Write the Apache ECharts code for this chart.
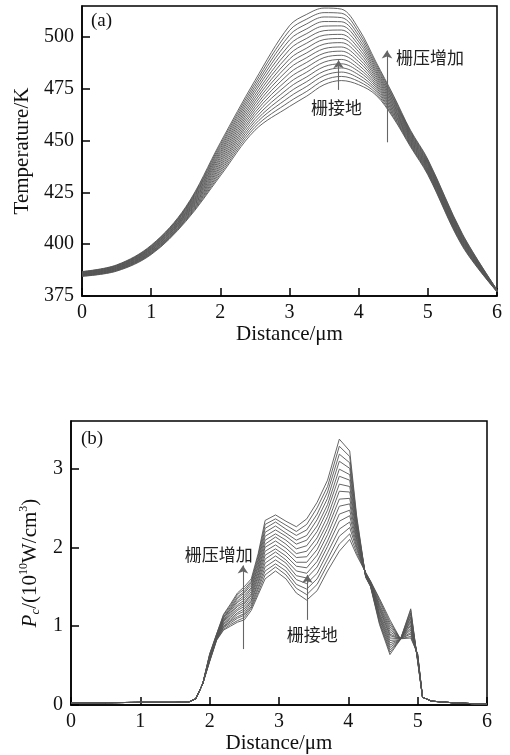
<!DOCTYPE html>
<html><head><meta charset="utf-8">
<script src="https://cdn.jsdelivr.net/npm/echarts@6/dist/echarts.min.js"></script>
<style>html,body{margin:0;padding:0;background:#fff}#c{width:510px;height:755px}</style>
</head><body><div id="c"></div>
<script>
// ---------- (a) Temperature vs distance ----------
const distA = [0, 0.5, 1, 1.5, 2, 2.5, 3, 3.25, 3.5, 3.75, 4, 4.25, 4.5, 4.75, 5, 5.5, 6];
const t01 = [384.5, 387.0, 395.0, 411.0, 433.0, 455.0, 466.5, 471.5, 477.0, 479.0, 477.0, 472.0, 461.0, 447.0, 433.5, 399.0, 377.0];
const t02 = [384.6, 387.2, 395.3, 411.4, 433.9, 456.4, 468.8, 473.8, 479.2, 481.0, 478.6, 472.9, 461.6, 447.5, 433.9, 399.4, 377.1];
const t03 = [384.8, 387.4, 395.5, 411.8, 434.9, 457.8, 471.1, 476.2, 481.4, 483.1, 480.2, 473.9, 462.3, 447.9, 434.4, 399.7, 377.1];
const t04 = [384.9, 387.5, 395.8, 412.2, 435.8, 459.2, 473.4, 478.5, 483.5, 485.1, 481.8, 474.8, 462.9, 448.4, 434.8, 400.1, 377.2];
const t05 = [385.0, 387.7, 396.1, 412.6, 436.8, 460.6, 475.7, 480.8, 485.7, 487.1, 483.4, 475.8, 463.6, 448.9, 435.3, 400.4, 377.2];
const t06 = [385.2, 387.9, 396.3, 413.1, 437.7, 462.1, 478.0, 483.1, 487.9, 489.2, 484.9, 476.7, 464.2, 449.4, 435.7, 400.8, 377.3];
const t07 = [385.3, 388.1, 396.6, 413.5, 438.6, 463.5, 480.3, 485.4, 490.1, 491.2, 486.5, 477.6, 464.9, 449.8, 436.2, 401.1, 377.4];
const t08 = [385.4, 388.2, 396.9, 413.9, 439.6, 464.9, 482.6, 487.8, 492.2, 493.2, 488.1, 478.6, 465.5, 450.3, 436.6, 401.5, 377.4];
const t09 = [385.6, 388.4, 397.1, 414.3, 440.5, 466.3, 484.9, 490.1, 494.4, 495.2, 489.7, 479.5, 466.2, 450.8, 437.0, 401.8, 377.5];
const t10 = [385.7, 388.6, 397.4, 414.7, 441.5, 467.7, 487.2, 492.4, 496.6, 497.3, 491.3, 480.5, 466.8, 451.2, 437.5, 402.2, 377.5];
const t11 = [385.9, 388.8, 397.7, 415.1, 442.4, 469.1, 489.4, 494.7, 498.8, 499.3, 492.9, 481.4, 467.5, 451.7, 437.9, 402.5, 377.6];
const t12 = [386.0, 388.9, 397.9, 415.5, 443.4, 470.5, 491.7, 497.1, 500.9, 501.3, 494.5, 482.4, 468.1, 452.2, 438.4, 402.9, 377.6];
const t13 = [386.1, 389.1, 398.2, 415.9, 444.3, 471.9, 494.0, 499.4, 503.1, 503.4, 496.1, 483.3, 468.8, 452.6, 438.8, 403.2, 377.7];
const t14 = [386.3, 389.3, 398.4, 416.4, 445.2, 473.4, 496.3, 501.7, 505.3, 505.4, 497.7, 484.2, 469.4, 453.1, 439.2, 403.6, 377.8];
const t15 = [386.4, 389.5, 398.7, 416.8, 446.2, 474.8, 498.6, 504.0, 507.5, 507.4, 499.2, 485.2, 470.1, 453.6, 439.7, 403.9, 377.8];
const t16 = [386.5, 389.7, 399.0, 417.2, 447.1, 476.2, 500.9, 506.4, 509.7, 509.4, 500.8, 486.1, 470.7, 454.1, 440.1, 404.3, 377.9];
const t17 = [386.7, 389.8, 399.2, 417.6, 448.1, 477.6, 503.2, 508.7, 511.8, 511.5, 502.4, 487.1, 471.4, 454.5, 440.6, 404.7, 377.9];
const t18 = [386.8, 390.0, 399.5, 418.0, 449.0, 479.0, 505.5, 511.0, 514.0, 513.5, 504.0, 488.0, 472.0, 455.0, 441.0, 405.0, 378.0];
const tempCurves = [t01, t02, t03, t04, t05, t06, t07, t08, t09, t10, t11, t12, t13, t14, t15, t16, t17, t18];

// ---------- (b) Pc vs distance ----------
const headX = [0, 0.5, 1, 1.5, 1.7, 1.8, 1.9];
const headV = [0.03, 0.03, 0.035, 0.035, 0.04, 0.08, 0.27];
const midX = [2.0, 2.1, 2.2, 2.3, 2.4, 2.5, 2.6, 2.7, 2.8, 2.95, 3.1, 3.25, 3.4, 3.55, 3.7, 3.87, 4.02, 4.12, 4.25, 4.32, 4.45, 4.6, 4.75, 4.9, 5.0];
const tailX = [5.07, 5.2, 5.5, 6];
const tailV = [0.1, 0.05, 0.03, 0.01];
const p01 = [0.55,0.82,0.95,1.00,1.05,1.08,1.20,1.40,1.60,1.70,1.60,1.42,1.33,1.45,1.70,1.95,2.10,1.90,1.68,1.57,1.35,1.08,0.84,0.85,0.65];
const p02 = [0.56,0.83,0.96,1.02,1.07,1.11,1.23,1.43,1.65,1.75,1.65,1.48,1.40,1.53,1.78,2.04,2.17,1.93,1.68,1.57,1.33,1.05,0.84,0.87,0.64];
const p03 = [0.56,0.83,0.98,1.04,1.10,1.14,1.25,1.47,1.70,1.79,1.70,1.53,1.47,1.60,1.85,2.14,2.25,1.97,1.67,1.56,1.31,1.02,0.84,0.90,0.64];
const p04 = [0.57,0.84,0.99,1.06,1.12,1.16,1.28,1.50,1.75,1.84,1.75,1.59,1.54,1.67,1.93,2.23,2.32,2.00,1.67,1.56,1.28,0.99,0.84,0.92,0.63];
const p05 = [0.58,0.84,1.00,1.07,1.15,1.19,1.31,1.54,1.80,1.89,1.80,1.64,1.61,1.75,2.01,2.33,2.40,2.03,1.66,1.55,1.26,0.96,0.84,0.95,0.62];
const p06 = [0.58,0.85,1.02,1.09,1.17,1.22,1.33,1.57,1.85,1.94,1.84,1.70,1.67,1.82,2.08,2.42,2.47,2.07,1.66,1.55,1.24,0.93,0.84,0.97,0.62];
const p07 = [0.59,0.85,1.03,1.11,1.20,1.25,1.36,1.61,1.90,1.98,1.89,1.76,1.74,1.90,2.16,2.52,2.55,2.10,1.66,1.54,1.22,0.90,0.84,1.00,0.61];
const p08 = [0.60,0.86,1.04,1.13,1.22,1.28,1.39,1.64,1.95,2.03,1.94,1.81,1.81,1.97,2.24,2.61,2.62,2.13,1.65,1.54,1.20,0.88,0.84,1.02,0.60];
const p09 = [0.60,0.86,1.06,1.15,1.25,1.30,1.41,1.68,2.00,2.08,1.99,1.87,1.88,2.05,2.31,2.71,2.70,2.17,1.65,1.53,1.17,0.85,0.84,1.05,0.60];
const p10 = [0.61,0.87,1.07,1.17,1.27,1.33,1.44,1.71,2.04,2.13,2.04,1.92,1.95,2.12,2.39,2.80,2.77,2.20,1.64,1.53,1.15,0.82,0.83,1.07,0.59];
const p11 = [0.62,0.87,1.08,1.19,1.30,1.36,1.47,1.75,2.09,2.17,2.09,1.98,2.02,2.20,2.47,2.90,2.85,2.23,1.64,1.52,1.13,0.79,0.83,1.10,0.58];
const p12 = [0.62,0.88,1.10,1.21,1.32,1.39,1.49,1.78,2.14,2.22,2.14,2.04,2.09,2.27,2.54,2.99,2.92,2.27,1.64,1.52,1.11,0.76,0.83,1.12,0.58];
const p13 = [0.63,0.88,1.11,1.22,1.35,1.42,1.52,1.82,2.19,2.27,2.18,2.09,2.15,2.35,2.62,3.09,3.00,2.30,1.63,1.51,1.09,0.73,0.83,1.15,0.57];
const p14 = [0.64,0.89,1.12,1.24,1.37,1.44,1.55,1.85,2.24,2.32,2.23,2.15,2.22,2.42,2.70,3.18,3.07,2.33,1.63,1.51,1.06,0.70,0.83,1.17,0.56];
const p15 = [0.64,0.90,1.14,1.26,1.40,1.47,1.57,1.89,2.29,2.36,2.28,2.20,2.29,2.50,2.77,3.28,3.15,2.37,1.62,1.51,1.04,0.67,0.83,1.20,0.56];
const p16 = [0.65,0.90,1.15,1.28,1.42,1.50,1.60,1.92,2.34,2.41,2.33,2.26,2.36,2.57,2.85,3.37,3.22,2.40,1.62,1.50,1.02,0.64,0.83,1.22,0.55];
const pcCurves = [p01, p02, p03, p04, p05, p06, p07, p08, p09, p10, p11, p12, p13, p14, p15, p16];

const xTicks = [0, 1, 2, 3, 4, 5, 6];

// ---------- styling ----------
const SERIF = '"Liberation Serif", "DejaVu Serif", serif';
const CJK = '"Noto Sans CJK SC", sans-serif';
const INK = '#111';

function xAxis(gridIndex, nameGap) {
  return {
    type: 'value', gridIndex, min: xTicks[0], max: xTicks[xTicks.length - 1], interval: 1,
    name: 'Distance/μm', nameLocation: 'middle', nameGap,
    nameTextStyle: { fontFamily: SERIF, fontSize: 21, color: INK },
    axisLine: { show: true, onZero: false, lineStyle: { color: '#000', width: 1.5 } },
    axisTick: { show: true, inside: true, length: 8, lineStyle: { color: '#000', width: 1.5 } },
    axisLabel: { fontFamily: SERIF, fontSize: 20, color: INK, margin: 7 },
    splitLine: { show: false }
  };
}
function yAxis(gridIndex, min, max, interval, name, nameGap, rich) {
  return {
    type: 'value', gridIndex, min, max, interval,
    name, nameLocation: 'middle', nameGap, nameRotate: 90,
    nameTextStyle: Object.assign({ fontFamily: SERIF, fontSize: 21, color: INK }, rich ? { rich } : {}),
    axisLine: { show: true, onZero: false, lineStyle: { color: '#000', width: 1.5 } },
    axisTick: { show: true, inside: true, length: 8, lineStyle: { color: '#000', width: 1.5 } },
    axisLabel: { fontFamily: SERIF, fontSize: 20, color: INK, margin: 8, showMaxLabel: false },
    splitLine: { show: false }
  };
}
const lineStyleA = { color: '#555', width: 0.9 };
const lineStyleB = { color: '#555', width: 0.9 };
const arrowStyle = { color: '#666', width: 1.1, type: 'solid' };
function textMark(coord, text) {
  return { name: text, coord, symbol: 'rect', symbolSize: 1, itemStyle: { color: 'rgba(0,0,0,0)' },
    label: { show: true, position: 'inside', formatter: '{b}', fontFamily: CJK, fontSize: 17, color: '#222' } };
}

const series = [];
tempCurves.forEach((arr, k) => {
  const s = {
    type: 'line', xAxisIndex: 0, yAxisIndex: 0, silent: true, symbol: 'none', smooth: 0.35,
    data: distA.map((d, i) => [d, arr[i]]), lineStyle: lineStyleA, z: 2
  };
  if (k === 0) {
    s.markLine = { silent: true, symbol: ['none', 'arrow'], symbolSize: 8, lineStyle: arrowStyle, label: { show: false },
      data: [[{ coord: [3.71, 474.5] }, { coord: [3.71, 488.8] }], [{ coord: [4.41, 449.2] }, { coord: [4.41, 493.5] }]] };
    s.markPoint = { silent: true, data: [textMark([3.68, 466], '栅接地'), textMark([5.03, 490.3], '栅压增加')] };
  }
  series.push(s);
});
pcCurves.forEach((arr, k) => {
  const data = headX.map((d, i) => [d, headV[i]])
    .concat(midX.map((d, i) => [d, arr[i]]))
    .concat(tailX.map((d, i) => [d, tailV[i]]));
  const s = {
    type: 'line', xAxisIndex: 1, yAxisIndex: 1, silent: true, symbol: 'none', smooth: false,
    data, lineStyle: lineStyleB, z: 2
  };
  if (k === 0) {
    s.markLine = { silent: true, symbol: ['none', 'arrow'], symbolSize: 8, lineStyle: arrowStyle, label: { show: false },
      data: [[{ coord: [2.48, 0.71] }, { coord: [2.48, 1.77] }], [{ coord: [3.41, 1.08] }, { coord: [3.41, 1.65] }]] };
    s.markPoint = { silent: true, data: [textMark([2.13, 1.91], '栅压增加'), textMark([3.48, 0.89], '栅接地')] };
  }
  series.push(s);
});

const chart = echarts.init(document.getElementById('c'), null, { renderer: 'canvas' });
chart.setOption({
  animation: false,
  backgroundColor: '#fff',
  grid: [
    { left: 82, top: 6, width: 415, height: 290, show: true, borderColor: '#000', borderWidth: 1.5, backgroundColor: 'transparent' },
    { left: 71, top: 421, width: 416, height: 289, show: true, borderColor: '#000', borderWidth: 1.5, backgroundColor: 'transparent' }
  ],
  xAxis: [xAxis(0, 27), xAxis(1, 23)],
  yAxis: [
    yAxis(0, 375, 515, 25, 'Temperature/K', 45),
    yAxis(1, 0, 3.6, 1, '{i|P}{sub|c}/(10{sup|10}W/cm{sup|3})', 26, {
      i: { fontFamily: SERIF, fontSize: 21, fontStyle: 'italic', color: INK },
      sub: { fontFamily: SERIF, fontSize: 13, fontStyle: 'italic', color: INK, verticalAlign: 'bottom', lineHeight: 24 },
      sup: { fontFamily: SERIF, fontSize: 12, color: INK, verticalAlign: 'top', lineHeight: 24 }
    })
  ],
  graphic: [
    { type: 'text', left: 91, top: 12, style: { text: '(a)', font: '19px ' + SERIF, fill: INK } },
    { type: 'text', left: 81, top: 430, style: { text: '(b)', font: '19px ' + SERIF, fill: INK } }
  ],
  series
});
</script></body></html>
